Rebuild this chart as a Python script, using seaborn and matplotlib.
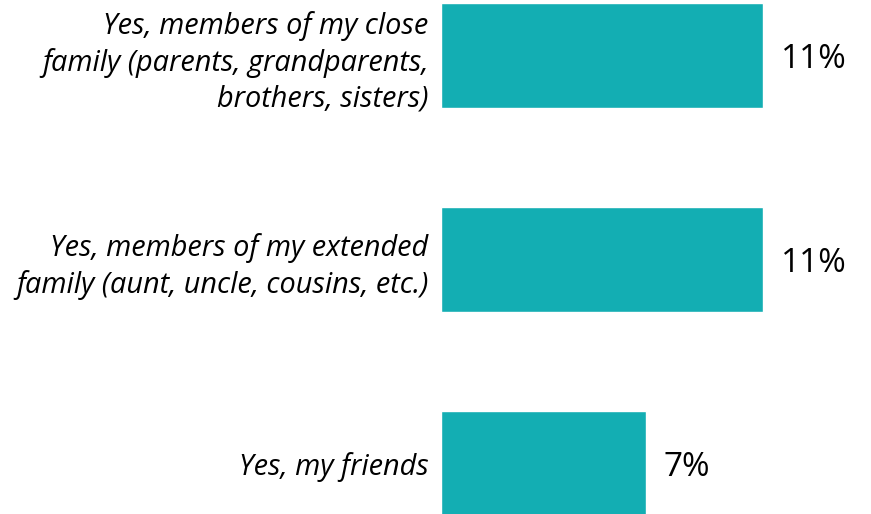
import matplotlib
matplotlib.use("Agg")
import matplotlib.pyplot as plt
import seaborn as sns
import pandas as pd

categories = [
    "Yes, members of my close\nfamily (parents, grandparents,\nbrothers, sisters)",
    "Yes, members of my extended\nfamily (aunt, uncle, cousins, etc.)",
    "Yes, my friends",
]
values = [11, 11, 7]
value_labels = ["11%", "11%", "7%"]

df = pd.DataFrame({"cat": categories, "val": values})

sns.set_style("white")
plt.rcParams["font.family"] = ["Open Sans", "DejaVu Sans"]

W, H = 871, 514
fig = plt.figure(figsize=(W / 100, H / 100), dpi=100)
left = 441 / W
ax = fig.add_axes([left, 0, 1 - left, 1])

sns.barplot(data=df, x="val", y="cat", orient="h", color="#13AEB3",
            saturation=1, width=0.515, ax=ax)

scale = (763 - 441) / 11.0
ax.set_xlim(0, (W - 441) / scale)
ax.set_ylim(2 + (514 - 463.5) / 204, -55.5 / 204)

for i, (v, lab) in enumerate(zip(values, value_labels)):
    ax.annotate(lab, xy=(v, i), xytext=(13, -3), textcoords="offset points",
                ha="left", va="center", fontsize=24, color="#000000")

ax.set_xlabel("")
ax.set_ylabel("")
ax.set_xticks([])
ax.tick_params(axis="y", length=0, pad=9)
for t in ax.get_yticklabels():
    t.set_fontsize(20.8)
    t.set_fontstyle("italic")
    t.set_color("#000000")
    t.set_linespacing(1.3)
for s in ax.spines.values():
    s.set_visible(False)

fig.savefig("out.png", dpi=100)
